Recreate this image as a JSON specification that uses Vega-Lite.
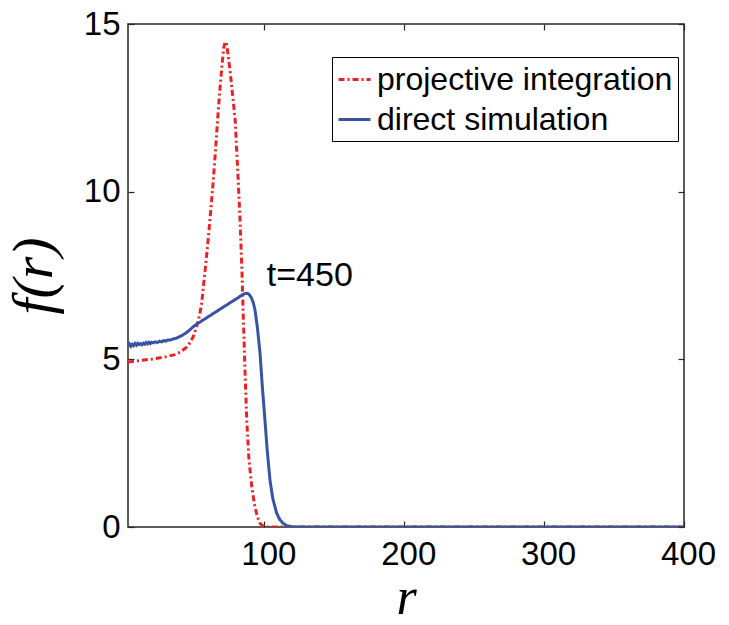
{
  "$schema": "https://vega.github.io/schema/vega-lite/v6.json",
  "width": 556,
  "height": 503,
  "autosize": {"type": "none"},
  "padding": {"left": 128, "top": 24, "right": 45, "bottom": 98},
  "background": "white",
  "config": {
    "view": {"stroke": "#262626", "strokeWidth": 1.5},
    "axis": {"grid": false, "domain": false, "tickColor": "#262626", "tickWidth": 1.2, "labelColor": "black", "labelFont": "Liberation Sans", "titleColor": "black"}
  },
  "datasets": {
    "curves": [
      {"series": "projective integration", "r": 2.5, "f": 4.92},
      {"series": "projective integration", "r": 10, "f": 4.96},
      {"series": "projective integration", "r": 20, "f": 5.01},
      {"series": "projective integration", "r": 30, "f": 5.08},
      {"series": "projective integration", "r": 36, "f": 5.14},
      {"series": "projective integration", "r": 40, "f": 5.22},
      {"series": "projective integration", "r": 44, "f": 5.35},
      {"series": "projective integration", "r": 47, "f": 5.5},
      {"series": "projective integration", "r": 49.2, "f": 5.68},
      {"series": "projective integration", "r": 51, "f": 5.9},
      {"series": "projective integration", "r": 53, "f": 6.2},
      {"series": "projective integration", "r": 55, "f": 6.6},
      {"series": "projective integration", "r": 56.4, "f": 7.17},
      {"series": "projective integration", "r": 58, "f": 7.8},
      {"series": "projective integration", "r": 60, "f": 8.66},
      {"series": "projective integration", "r": 62, "f": 9.6},
      {"series": "projective integration", "r": 63.5, "f": 10.35},
      {"series": "projective integration", "r": 65, "f": 11.2},
      {"series": "projective integration", "r": 67, "f": 12.4},
      {"series": "projective integration", "r": 68.3, "f": 13.1},
      {"series": "projective integration", "r": 70, "f": 13.9},
      {"series": "projective integration", "r": 71, "f": 14.3},
      {"series": "projective integration", "r": 72, "f": 14.47},
      {"series": "projective integration", "r": 73, "f": 14.4},
      {"series": "projective integration", "r": 74, "f": 14.1},
      {"series": "projective integration", "r": 75.4, "f": 13.63},
      {"series": "projective integration", "r": 77, "f": 13.0},
      {"series": "projective integration", "r": 79.1, "f": 12.14},
      {"series": "projective integration", "r": 81, "f": 10.6},
      {"series": "projective integration", "r": 82.6, "f": 9.16},
      {"series": "projective integration", "r": 84, "f": 7.6},
      {"series": "projective integration", "r": 85, "f": 6.17},
      {"series": "projective integration", "r": 86.2, "f": 4.6},
      {"series": "projective integration", "r": 87.4, "f": 3.19},
      {"series": "projective integration", "r": 89, "f": 2.0},
      {"series": "projective integration", "r": 91, "f": 1.2},
      {"series": "projective integration", "r": 93, "f": 0.65},
      {"series": "projective integration", "r": 95, "f": 0.3},
      {"series": "projective integration", "r": 97, "f": 0.1},
      {"series": "projective integration", "r": 99, "f": 0.03},
      {"series": "projective integration", "r": 101, "f": 0},
      {"series": "projective integration", "r": 200, "f": 0},
      {"series": "projective integration", "r": 300, "f": 0},
      {"series": "projective integration", "r": 400, "f": 0},
      {"series": "direct simulation", "r": 2.5, "f": 5.40},
      {"series": "direct simulation", "r": 3.5, "f": 5.46},
      {"series": "direct simulation", "r": 4.5, "f": 5.39},
      {"series": "direct simulation", "r": 5.5, "f": 5.45},
      {"series": "direct simulation", "r": 6.5, "f": 5.41},
      {"series": "direct simulation", "r": 7.5, "f": 5.47},
      {"series": "direct simulation", "r": 8.5, "f": 5.42},
      {"series": "direct simulation", "r": 9.5, "f": 5.48},
      {"series": "direct simulation", "r": 10.5, "f": 5.44},
      {"series": "direct simulation", "r": 11.5, "f": 5.47},
      {"series": "direct simulation", "r": 12.5, "f": 5.43},
      {"series": "direct simulation", "r": 13.5, "f": 5.48},
      {"series": "direct simulation", "r": 14.5, "f": 5.45},
      {"series": "direct simulation", "r": 15.5, "f": 5.50},
      {"series": "direct simulation", "r": 16.5, "f": 5.46},
      {"series": "direct simulation", "r": 17.5, "f": 5.51},
      {"series": "direct simulation", "r": 18.5, "f": 5.47},
      {"series": "direct simulation", "r": 19.5, "f": 5.51},
      {"series": "direct simulation", "r": 20.5, "f": 5.49},
      {"series": "direct simulation", "r": 22, "f": 5.52},
      {"series": "direct simulation", "r": 23.5, "f": 5.50},
      {"series": "direct simulation", "r": 25, "f": 5.54},
      {"series": "direct simulation", "r": 26.5, "f": 5.52},
      {"series": "direct simulation", "r": 28, "f": 5.56},
      {"series": "direct simulation", "r": 29.5, "f": 5.54},
      {"series": "direct simulation", "r": 31, "f": 5.58},
      {"series": "direct simulation", "r": 33, "f": 5.58},
      {"series": "direct simulation", "r": 35, "f": 5.61},
      {"series": "direct simulation", "r": 37, "f": 5.63},
      {"series": "direct simulation", "r": 39, "f": 5.67},
      {"series": "direct simulation", "r": 41, "f": 5.71},
      {"series": "direct simulation", "r": 43, "f": 5.76},
      {"series": "direct simulation", "r": 45, "f": 5.82},
      {"series": "direct simulation", "r": 47, "f": 5.89},
      {"series": "direct simulation", "r": 48.5, "f": 5.95},
      {"series": "direct simulation", "r": 50, "f": 6.0},
      {"series": "direct simulation", "r": 52, "f": 6.06},
      {"series": "direct simulation", "r": 55, "f": 6.14},
      {"series": "direct simulation", "r": 58, "f": 6.22},
      {"series": "direct simulation", "r": 61, "f": 6.3},
      {"series": "direct simulation", "r": 64, "f": 6.38},
      {"series": "direct simulation", "r": 67, "f": 6.46},
      {"series": "direct simulation", "r": 70, "f": 6.54},
      {"series": "direct simulation", "r": 73, "f": 6.62},
      {"series": "direct simulation", "r": 76, "f": 6.7},
      {"series": "direct simulation", "r": 79, "f": 6.78},
      {"series": "direct simulation", "r": 82, "f": 6.86},
      {"series": "direct simulation", "r": 84, "f": 6.92},
      {"series": "direct simulation", "r": 86, "f": 6.96},
      {"series": "direct simulation", "r": 87.5, "f": 6.97},
      {"series": "direct simulation", "r": 89, "f": 6.94},
      {"series": "direct simulation", "r": 90.5, "f": 6.85},
      {"series": "direct simulation", "r": 92, "f": 6.7},
      {"series": "direct simulation", "r": 93.3, "f": 6.47},
      {"series": "direct simulation", "r": 95, "f": 5.95},
      {"series": "direct simulation", "r": 96.9, "f": 5.18},
      {"series": "direct simulation", "r": 98.5, "f": 4.2},
      {"series": "direct simulation", "r": 100.4, "f": 3.19},
      {"series": "direct simulation", "r": 102, "f": 2.3},
      {"series": "direct simulation", "r": 104, "f": 1.4},
      {"series": "direct simulation", "r": 106, "f": 0.85},
      {"series": "direct simulation", "r": 108.8, "f": 0.41},
      {"series": "direct simulation", "r": 111, "f": 0.22},
      {"series": "direct simulation", "r": 113.4, "f": 0.11},
      {"series": "direct simulation", "r": 116, "f": 0.04},
      {"series": "direct simulation", "r": 119, "f": 0.01},
      {"series": "direct simulation", "r": 122, "f": 0},
      {"series": "direct simulation", "r": 200, "f": 0},
      {"series": "direct simulation", "r": 300, "f": 0},
      {"series": "direct simulation", "r": 400, "f": 0}
    ],
    "notes": [
      {"r": 101.7, "f": 7.5, "label": "t=450"}
    ]
  },
  "layer": [
    {
      "data": {"name": "curves"},
      "mark": {"type": "line", "strokeWidth": 3, "clip": true},
      "encoding": {
        "x": {
          "field": "r", "type": "quantitative",
          "scale": {"domain": [2.5, 400], "nice": false, "zero": false},
          "axis": {
            "orient": "bottom", "values": [100, 200, 300, 400], "tickSize": -6,
            "labelPadding": 17, "labelFontSize": 33, "labelFlush": false, "labelOverlap": false, "labelOffset": 4,
            "title": "r", "titleFont": "Liberation Serif", "titleFontStyle": "italic", "titleFontWeight": "normal",
            "titleFontSize": 52, "titleX": 278, "titleY": 86, "titleAlign": "center", "titleBaseline": "alphabetic"
          }
        },
        "y": {
          "field": "f", "type": "quantitative",
          "scale": {"domain": [0, 15], "nice": false},
          "axis": {
            "orient": "left", "values": [0, 5, 10, 15], "tickSize": -6,
            "labelPadding": 14, "labelFontSize": 33, "labelFlush": false, "labelOverlap": false,
            "title": "f(r)", "titleFont": "Liberation Serif", "titleFontStyle": "italic", "titleFontWeight": "normal",
            "titleFontSize": 58, "titleAngle": -90, "titleX": -77, "titleY": 251.5, "titleAlign": "center", "titleBaseline": "alphabetic"
          }
        },
        "color": {
          "field": "series", "type": "nominal", "title": null,
          "scale": {"domain": ["projective integration", "direct simulation"], "range": ["#ed2024", "#3953a4"]},
          "legend": {
            "orient": "none", "legendX": 204, "legendY": 33,
            "symbolType": "stroke", "symbolSize": 1024, "symbolStrokeWidth": 3,
            "labelFont": "Liberation Sans", "labelFontSize": 32, "labelColor": "black", "labelOffset": 5, "labelLimit": 600,
            "rowPadding": 6, "padding": 5, "strokeColor": "black", "fillColor": "white"
          }
        },
        "strokeDash": {
          "field": "series", "type": "nominal", "title": null,
          "scale": {"domain": ["projective integration", "direct simulation"], "range": [[6, 3, 2, 3], [1, 0]]}
        }
      }
    },
    {
      "data": {"name": "notes"},
      "mark": {"type": "text", "align": "left", "baseline": "middle", "font": "Liberation Sans", "fontSize": 34, "color": "black"},
      "encoding": {
        "x": {"field": "r", "type": "quantitative", "axis": {"orient": "top", "values": [100, 200, 300, 400], "tickSize": -6, "labels": false, "title": null}},
        "y": {"field": "f", "type": "quantitative", "axis": {"orient": "right", "values": [0, 5, 10, 15], "tickSize": -6, "labels": false, "title": null}},
        "text": {"field": "label"}
      }
    }
  ],
  "resolve": {"axis": {"x": "independent", "y": "independent"}}
}
